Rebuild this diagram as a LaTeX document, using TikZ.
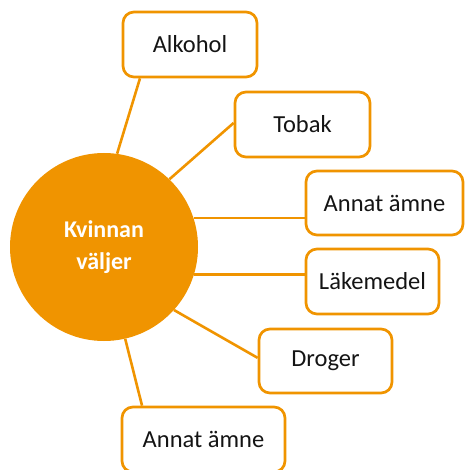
\documentclass[tikz,border=0pt]{standalone}
\usepackage{fontspec}
\setmainfont{Carlito}
\usetikzlibrary{calc}
\definecolor{org}{RGB}{240,148,0}
\definecolor{txt}{RGB}{20,20,20}
\tikzset{
  itembox/.style={draw=org, line width=2.7pt, rounded corners=11pt, fill=white,
    minimum height=65pt, inner sep=0pt, text=txt, font=\fontsize{24.5}{28}\selectfont},
  link/.style={draw=org, line width=2.6pt},
  hub/.style={circle, fill=org, minimum size=188pt, inner sep=0pt, text=white,
    align=center, font=\bfseries\fontsize{24}{32}\selectfont}
}
\begin{document}
\begin{tikzpicture}[x=1pt,y=-1pt]
\useasboundingbox (0,0) rectangle (465,470);
\node[hub] (c) at (104,247) {Kvinnan\\väljer};
\node[itembox, minimum width=134pt] (alk) at (190,44.5) {Alkohol};
\node[itembox, minimum width=135pt] (tob) at (302.5,124.5) {Tobak};
\node[itembox, minimum width=157pt, minimum height=64pt] (annr) at (384.5,203) {Annat ämne};
\node[itembox, minimum width=133pt] (lak) at (372.5,281.5) {Läkemedel};
\node[itembox, minimum width=133pt, minimum height=64pt] (dro) at (325.5,361) {Droger};
\node[itembox, minimum width=163pt] (annb) at (203.5,439.5) {Annat ämne};
\coordinate (alkp) at ($(alk.south west)!0.134!(alk.south east)$);
\coordinate (tobp) at ($(tob.north west)!0.477!(tob.south west)$);
\coordinate (drop) at ($(dro.north west)!0.453!(dro.south west)$);
\coordinate (annbp) at ($(annb.north west)!0.129!(annb.north east)$);
\draw[link] (c.82.7) -- (alkp);
\draw[link] (c.46.3) -- (tobp);
\draw[link] (c.18.6) -- (c.18.6 -| annr.west);
\draw[link] (c.-17.3) -- (c.-17.3 -| lak.west);
\draw[link] (c.-42.4) -- (drop);
\draw[link] (c.-77.9) -- (annbp);
\end{tikzpicture}
\end{document}
